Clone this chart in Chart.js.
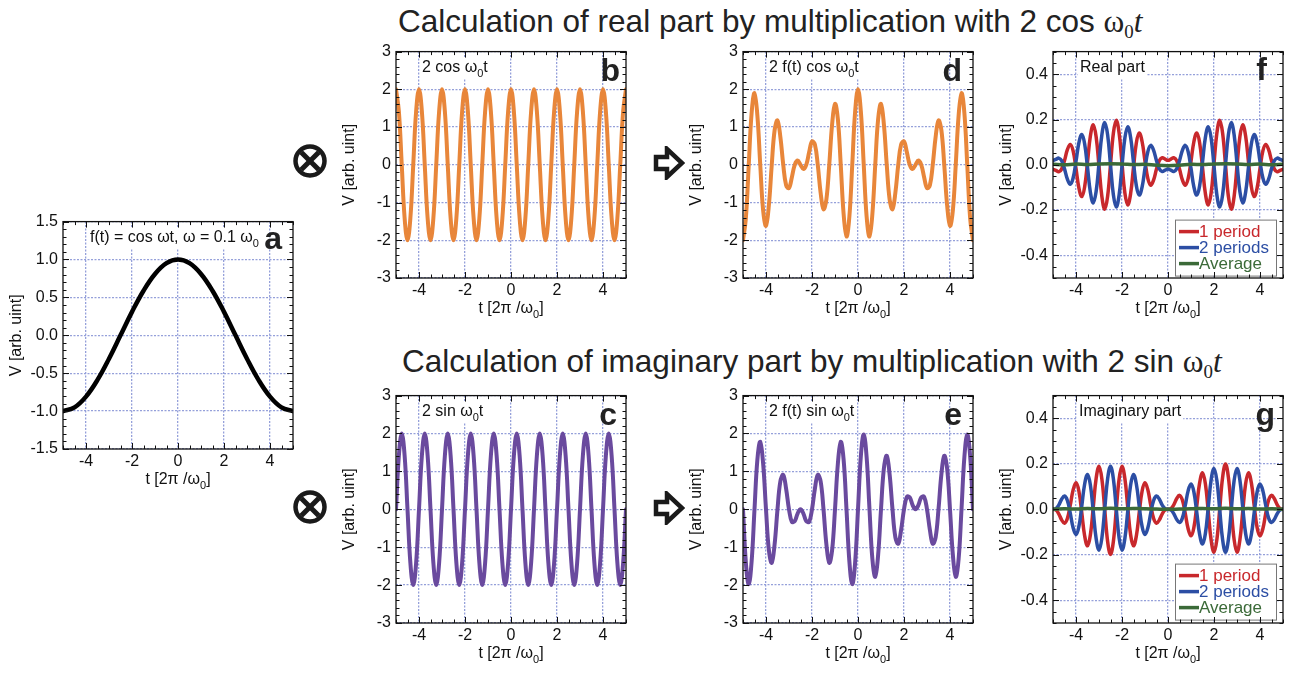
<!DOCTYPE html>
<html>
<head>
<meta charset="utf-8">
<script src="https://cdn.jsdelivr.net/npm/chart.js@4.4.0/dist/chart.umd.min.js"></script>
<style>
  body { margin: 0; background: #fff; }
  #wrap { position: relative; width: 1289px; height: 673px; overflow: hidden; background: #fff;
          font-family: "Liberation Sans", Arial, Helvetica, sans-serif; }
  canvas { position: absolute; }
  .heading { position: absolute; font-size: 31.5px; line-height: 30px; color: #222; white-space: nowrap; }
  .heading .om { font-family: "Liberation Serif", "Times New Roman", serif; }
  .heading .sub { position: relative; top: 0.3em; font-size: 0.6em; }
  .sym { position: absolute; z-index: 5; }
</style>
</head>
<body>
<div id="wrap">
  <div class="heading" style="left:398px; top:6px">Calculation of real part by multiplication with 2 cos <span class="om">ω<span class="sub">0</span><i>t</i></span></div>
  <div class="heading" style="left:402px; top:346px">Calculation of imaginary part by multiplication with 2 sin <span class="om">ω<span class="sub">0</span><i>t</i></span></div>

  <svg class="sym" style="left:293px; top:144px" width="34" height="34" viewBox="0 0 34 34">
    <circle cx="17" cy="17" r="14.5" fill="#fff" stroke="#1a1a1a" stroke-width="4.5"/>
    <line x1="8.2" y1="8.2" x2="25.8" y2="25.8" stroke="#1a1a1a" stroke-width="5"/>
    <line x1="25.8" y1="8.2" x2="8.2" y2="25.8" stroke="#1a1a1a" stroke-width="5"/>
  </svg>
  <svg class="sym" style="left:293px; top:490px" width="34" height="34" viewBox="0 0 34 34">
    <circle cx="17" cy="17" r="14.5" fill="#fff" stroke="#1a1a1a" stroke-width="4.5"/>
    <line x1="8.2" y1="8.2" x2="25.8" y2="25.8" stroke="#1a1a1a" stroke-width="5"/>
    <line x1="25.8" y1="8.2" x2="8.2" y2="25.8" stroke="#1a1a1a" stroke-width="5"/>
  </svg>
  <svg class="sym" style="left:653px; top:146px" width="32" height="34" viewBox="0 0 32 34">
    <polygon points="3,11 14,11 14,3 29,17 14,31 14,23 3,23" fill="#fff" stroke="#1a1a1a" stroke-width="4.5" stroke-linejoin="miter"/>
  </svg>
  <svg class="sym" style="left:653px; top:491px" width="32" height="34" viewBox="0 0 32 34">
    <polygon points="3,11 14,11 14,3 29,17 14,31 14,23 3,23" fill="#fff" stroke="#1a1a1a" stroke-width="4.5" stroke-linejoin="miter"/>
  </svg>

  <canvas id="cv_a"></canvas>
  <canvas id="cv_b"></canvas>
  <canvas id="cv_c"></canvas>
  <canvas id="cv_d"></canvas>
  <canvas id="cv_e"></canvas>
  <canvas id="cv_f"></canvas>
  <canvas id="cv_g"></canvas>
</div>

<script>
// ---- data ----
const xTicks = [-4, -2, 0, 2, 4];
const yTicksA = [-1.5, -1, -0.5, 0, 0.5, 1, 1.5];
const yTicksV = [-3, -2, -1, 0, 1, 2, 3];
const yTicksAvg = [-0.4, -0.2, 0, 0.2, 0.4];

// coarse time axis (panel a, averages)
const tCoarse = [-5, -4.5, -4, -3.5, -3, -2.5, -2, -1.5, -1, -0.5, 0,
                 0.5, 1, 1.5, 2, 2.5, 3, 3.5, 4, 4.5, 5];

// fine time axis (oscillating panels)
const tFine = [
  -5, -4.875, -4.75, -4.625, -4.5, -4.375, -4.25, -4.125,
  -4, -3.875, -3.75, -3.625, -3.5, -3.375, -3.25, -3.125,
  -3, -2.875, -2.75, -2.625, -2.5, -2.375, -2.25, -2.125,
  -2, -1.875, -1.75, -1.625, -1.5, -1.375, -1.25, -1.125,
  -1, -0.875, -0.75, -0.625, -0.5, -0.375, -0.25, -0.125,
  0, 0.125, 0.25, 0.375, 0.5, 0.625, 0.75, 0.875,
  1, 1.125, 1.25, 1.375, 1.5, 1.625, 1.75, 1.875,
  2, 2.125, 2.25, 2.375, 2.5, 2.625, 2.75, 2.875,
  3, 3.125, 3.25, 3.375, 3.5, 3.625, 3.75, 3.875,
  4, 4.125, 4.25, 4.375, 4.5, 4.625, 4.75, 4.875,
  5
];

// a: f(t)
const signalF = [-1, -0.951, -0.809, -0.588, -0.309, 0, 0.309, 0.588, 0.809, 0.951, 1,
                 0.951, 0.809, 0.588, 0.309, 0, -0.309, -0.588, -0.809, -0.951, -1];

// b: 2 cos w0 t
const refCos = [
  2, 1.414, 0, -1.414, -2, -1.414, 0, 1.414,
  2, 1.414, 0, -1.414, -2, -1.414, 0, 1.414,
  2, 1.414, 0, -1.414, -2, -1.414, 0, 1.414,
  2, 1.414, 0, -1.414, -2, -1.414, 0, 1.414,
  2, 1.414, 0, -1.414, -2, -1.414, 0, 1.414,
  2, 1.414, 0, -1.414, -2, -1.414, 0, 1.414,
  2, 1.414, 0, -1.414, -2, -1.414, 0, 1.414,
  2, 1.414, 0, -1.414, -2, -1.414, 0, 1.414,
  2, 1.414, 0, -1.414, -2, -1.414, 0, 1.414,
  2, 1.414, 0, -1.414, -2, -1.414, 0, 1.414,
  2
];

// c: 2 sin w0 t
const refSin = [
  0, 1.414, 2, 1.414, 0, -1.414, -2, -1.414,
  0, 1.414, 2, 1.414, 0, -1.414, -2, -1.414,
  0, 1.414, 2, 1.414, 0, -1.414, -2, -1.414,
  0, 1.414, 2, 1.414, 0, -1.414, -2, -1.414,
  0, 1.414, 2, 1.414, 0, -1.414, -2, -1.414,
  0, 1.414, 2, 1.414, 0, -1.414, -2, -1.414,
  0, 1.414, 2, 1.414, 0, -1.414, -2, -1.414,
  0, 1.414, 2, 1.414, 0, -1.414, -2, -1.414,
  0, 1.414, 2, 1.414, 0, -1.414, -2, -1.414,
  0, 1.414, 2, 1.414, 0, -1.414, -2, -1.414,
  0
];

// d: 2 f(t) cos w0 t
const mixCos = [
  -2, -1.410, 0, 1.375, 1.902, 1.307, 0, -1.206,
  -1.618, -1.075, 0, 0.919, 1.176, 0.739, 0, -0.541,
  -0.618, -0.330, 0, 0.111, 0, -0.111, 0, 0.330,
  0.618, 0.541, 0, -0.739, -1.176, -0.919, 0, 1.075,
  1.618, 1.206, 0, -1.307, -1.902, -1.375, 0, 1.410,
  2, 1.410, 0, -1.375, -1.902, -1.307, 0, 1.206,
  1.618, 1.075, 0, -0.919, -1.176, -0.739, 0, 0.541,
  0.618, 0.330, 0, -0.111, 0, 0.111, 0, -0.330,
  -0.618, -0.541, 0, 0.739, 1.176, 0.919, 0, -1.075,
  -1.618, -1.206, 0, 1.307, 1.902, 1.375, 0, -1.410,
  -2
];

// e: 2 f(t) sin w0 t
const mixSin = [
  0, -1.410, -1.975, -1.375, 0, 1.307, 1.782, 1.206,
  0, -1.075, -1.414, -0.919, 0, 0.739, 0.908, 0.541,
  0, -0.330, -0.313, -0.111, 0, -0.111, -0.313, -0.330,
  0, 0.541, 0.908, 0.739, 0, -0.919, -1.414, -1.075,
  0, 1.206, 1.782, 1.307, 0, -1.375, -1.975, -1.410,
  0, 1.410, 1.975, 1.375, 0, -1.307, -1.782, -1.206,
  0, 1.075, 1.414, 0.919, 0, -0.739, -0.908, -0.541,
  0, 0.330, 0.313, 0.111, 0, 0.111, 0.313, 0.330,
  0, -0.541, -0.908, -0.739, 0, 0.919, 1.414, 1.075,
  0, -1.206, -1.782, -1.307, 0, 1.375, 1.975, 1.410,
  0
];

// f: real part, running averages
const realOne = [
  -0.0199, -0.0250, -0.0311, -0.0191, 0.0189, 0.0668, 0.0902, 0.0614,
  -0.0161, -0.1019, -0.1405, -0.0977, 0.0117, 0.1271, 0.1771, 0.1244,
  -0.0061, -0.1399, -0.1963, -0.1390, 0, 0.1390, 0.1963, 0.1399,
  0.0061, -0.1244, -0.1771, -0.1271, -0.0117, 0.0977, 0.1405, 0.1019,
  0.0161, -0.0614, -0.0902, -0.0668, -0.0189, 0.0191, 0.0311, 0.0250,
  0.0199, 0.0250, 0.0311, 0.0191, -0.0189, -0.0668, -0.0902, -0.0614,
  0.0161, 0.1019, 0.1405, 0.0977, -0.0117, -0.1271, -0.1771, -0.1244,
  0.0061, 0.1399, 0.1963, 0.1390, 0, -0.1390, -0.1963, -0.1399,
  -0.0061, 0.1244, 0.1771, 0.1271, 0.0117, -0.0977, -0.1405, -0.1019,
  -0.0161, 0.0614, 0.0902, 0.0668, 0.0189, -0.0191, -0.0311, -0.0250,
  -0.0199
];
const realTwo = [
  0.0189, 0.0238, 0.0296, 0.0182, -0.0180, -0.0635, -0.0858, -0.0584,
  0.0153, 0.0970, 0.1336, 0.0929, -0.0111, -0.1209, -0.1684, -0.1184,
  0.0058, 0.1331, 0.1867, 0.1322, 0, -0.1322, -0.1867, -0.1331,
  -0.0058, 0.1184, 0.1684, 0.1209, 0.0111, -0.0929, -0.1336, -0.0970,
  -0.0153, 0.0584, 0.0858, 0.0635, 0.0180, -0.0182, -0.0296, -0.0238,
  -0.0189, -0.0238, -0.0296, -0.0182, 0.0180, 0.0635, 0.0858, 0.0584,
  -0.0153, -0.0970, -0.1336, -0.0929, 0.0111, 0.1209, 0.1684, 0.1184,
  -0.0058, -0.1331, -0.1867, -0.1322, 0, 0.1322, 0.1867, 0.1331,
  0.0058, -0.1184, -0.1684, -0.1209, -0.0111, 0.0929, 0.1336, 0.0970,
  0.0153, -0.0584, -0.0858, -0.0635, -0.0180, 0.0182, 0.0296, 0.0238,
  0.0189
];
const realAvg = [0.002, 0, 0.003, 0.001, 0.004, 0.005, 0.004, 0.001, 0.002, -0.002, -0.004,
                 -0.002, 0.002, 0.001, 0.004, 0.005, 0.004, 0.001, 0.003, 0, 0.002];

// g: imaginary part, running averages
const imagOne = [
  0, -0.0030, -0.0196, -0.0465, -0.0614, -0.0408, 0.0177, 0.0854,
  0.1168, 0.0806, -0.0141, -0.1160, -0.1608, -0.1125, 0.0090, 0.1352,
  0.1890, 0.1333, -0.0031, -0.1412, -0.1987, -0.1412, -0.0031, 0.1333,
  0.1890, 0.1352, 0.0090, -0.1125, -0.1608, -0.1160, -0.0141, 0.0806,
  0.1168, 0.0854, 0.0177, -0.0408, -0.0614, -0.0465, -0.0196, -0.0030,
  0, 0.0030, 0.0196, 0.0465, 0.0614, 0.0408, -0.0177, -0.0854,
  -0.1168, -0.0806, 0.0141, 0.1160, 0.1608, 0.1125, -0.0090, -0.1352,
  -0.1890, -0.1333, 0.0031, 0.1412, 0.1987, 0.1412, 0.0031, -0.1333,
  -0.1890, -0.1352, -0.0090, 0.1125, 0.1608, 0.1160, 0.0141, -0.0806,
  -0.1168, -0.0854, -0.0177, 0.0408, 0.0614, 0.0465, 0.0196, 0.0030,
  0
];
const imagTwo = [
  0, 0.0028, 0.0187, 0.0442, 0.0584, 0.0388, -0.0168, -0.0812,
  -0.1111, -0.0766, 0.0134, 0.1103, 0.1529, 0.1070, -0.0086, -0.1286,
  -0.1797, -0.1268, 0.0030, 0.1343, 0.1890, 0.1343, 0.0030, -0.1268,
  -0.1797, -0.1286, -0.0086, 0.1070, 0.1529, 0.1103, 0.0134, -0.0766,
  -0.1111, -0.0812, -0.0168, 0.0388, 0.0584, 0.0442, 0.0187, 0.0028,
  0, -0.0028, -0.0187, -0.0442, -0.0584, -0.0388, 0.0168, 0.0812,
  0.1111, 0.0766, -0.0134, -0.1103, -0.1529, -0.1070, 0.0086, 0.1286,
  0.1797, 0.1268, -0.0030, -0.1343, -0.1890, -0.1343, -0.0030, 0.1268,
  0.1797, 0.1286, 0.0086, -0.1070, -0.1529, -0.1103, -0.0134, 0.0766,
  0.1111, 0.0812, 0.0168, -0.0388, -0.0584, -0.0442, -0.0187, -0.0028,
  0
];
const imagAvg = [0, 0.002, 0.001, 0.003, 0.002, 0.005, 0.002, 0.004, 0.002, 0.001, 0,
                 0.001, 0.002, 0.004, 0.002, 0.005, 0.002, 0.003, 0.001, 0.002, 0];

const avgLabels = ['1 period', '2 periods', 'Average'];

// ---- layout / style ----
const FONT = '"Liberation Sans", Arial, Helvetica, sans-serif';
const GRID = '#95a0da';
const Y_AXIS_W = 62, PAD_T = 12, PAD_R = 6, X_AXIS_H = 48;
const LAYOUT = {
  a: { x: 63,   y: 219, w: 230, h: 230 },
  b: { x: 396,  y: 49,  w: 230, h: 229 },
  d: { x: 743,  y: 49,  w: 230, h: 229 },
  f: { x: 1053, y: 49,  w: 230, h: 229 },
  c: { x: 396,  y: 393, w: 230, h: 230 },
  e: { x: 743,  y: 393, w: 230, h: 230 },
  g: { x: 1053, y: 393, w: 230, h: 230 }
};
const ORANGE = '#e8863a', PURPLE = '#6a4a9e', RED = '#c8282c', BLUE = '#2c4ea4', GREEN = '#3b6a38';

Chart.defaults.font.family = FONT;
Chart.defaults.color = '#111';

// rich text: plain strings, ['x'] = subscript
function richWidth(ctx, parts, size) {
  let w = 0;
  parts.forEach(p => {
    const sub = Array.isArray(p);
    ctx.font = (sub ? Math.round(size * 0.68) : size) + 'px ' + FONT;
    w += ctx.measureText(sub ? p[0] : p).width;
  });
  return w;
}
function drawRich(ctx, parts, x, y, size) {
  let cx = x;
  ctx.textAlign = 'left';
  ctx.textBaseline = 'middle';
  parts.forEach(p => {
    const sub = Array.isArray(p);
    const s = sub ? p[0] : p;
    ctx.font = (sub ? Math.round(size * 0.68) : size) + 'px ' + FONT;
    ctx.fillText(s, cx, sub ? y + size * 0.38 : y);
    cx += ctx.measureText(s).width;
  });
}
function steps(lo, hi, st) {
  const out = [];
  for (let v = lo; v <= hi + 1e-9; v += st) out.push(Math.round(v * 1000) / 1000);
  return out;
}

const xTitle = ['t [2π /ω', ['0'], ']'];

const PANELS = [
  { id: 'a', yMin: -1.5, yMax: 1.5, yTicks: yTicksA, yMinor: 0.1, fmt: v => v.toFixed(1),
    label: ['f(t) = cos ωt, ω = 0.1 ω', ['0']], labelDx: 27, letter: 'a', letterDx: 11, letterDy: 27,
    series: [{ t: tCoarse, v: signalF, color: '#000', width: 4.5 }] },
  { id: 'b', yMin: -3, yMax: 3, yTicks: yTicksV, yMinor: 0.2, fmt: v => String(v),
    label: ['2 cos ω', ['0'], 't'], labelDx: 26, letter: 'b', letterDx: 6, letterDy: 29,
    series: [{ t: tFine, v: refCos, color: ORANGE, width: 4 }] },
  { id: 'c', yMin: -3, yMax: 3, yTicks: yTicksV, yMinor: 0.2, fmt: v => String(v),
    label: ['2 sin ω', ['0'], 't'], labelDx: 26, letter: 'c', letterDx: 9, letterDy: 29,
    series: [{ t: tFine, v: refSin, color: PURPLE, width: 4 }] },
  { id: 'd', yMin: -3, yMax: 3, yTicks: yTicksV, yMinor: 0.2, fmt: v => String(v),
    label: ['2 f(t) cos ω', ['0'], 't'], labelDx: 26, letter: 'd', letterDx: 11, letterDy: 29,
    series: [{ t: tFine, v: mixCos, color: ORANGE, width: 4 }] },
  { id: 'e', yMin: -3, yMax: 3, yTicks: yTicksV, yMinor: 0.2, fmt: v => String(v),
    label: ['2 f(t) sin ω', ['0'], 't'], labelDx: 26, letter: 'e', letterDx: 11, letterDy: 29,
    series: [{ t: tFine, v: mixSin, color: PURPLE, width: 4 }] },
  { id: 'f', yMin: -0.5, yMax: 0.5, yTicks: yTicksAvg, yMinor: 0.05, fmt: v => v.toFixed(1),
    label: ['Real part'], labelDx: 27, letter: 'f', letterDx: 16, letterDy: 28, legend: true,
    series: [
      { t: tFine, v: realOne, color: RED, width: 3.5, label: avgLabels[0], order: 2 },
      { t: tFine, v: realTwo, color: BLUE, width: 3.5, label: avgLabels[1], order: 1 },
      { t: tCoarse, v: realAvg, color: GREEN, width: 3.5, label: avgLabels[2], order: 0 }
    ] },
  { id: 'g', yMin: -0.5, yMax: 0.5, yTicks: yTicksAvg, yMinor: 0.05, fmt: v => v.toFixed(1),
    label: ['Imaginary part'], labelDx: 26, letter: 'g', letterDx: 8, letterDy: 29, legend: true,
    series: [
      { t: tFine, v: imagOne, color: RED, width: 3.5, label: avgLabels[0], order: 2 },
      { t: tFine, v: imagTwo, color: BLUE, width: 3.5, label: avgLabels[1], order: 1 },
      { t: tCoarse, v: imagAvg, color: GREEN, width: 3.5, label: avgLabels[2], order: 0 }
    ] }
];

function framePlugin(spec) {
  return {
    id: 'frame_' + spec.id,
    afterDatasetsDraw(chart) {
      const { ctx, chartArea: a } = chart;
      const xs = chart.scales.x, ys = chart.scales.y;
      ctx.save();

      // panel label on white backing
      const lx = a.left + spec.labelDx, ly = a.top + 16;
      const lw = richWidth(ctx, spec.label, 16);
      ctx.fillStyle = '#fff';
      ctx.fillRect(lx - 2, ly - 10, lw + 4, 21);
      ctx.fillStyle = '#111';
      drawRich(ctx, spec.label, lx, ly, 16);

      // panel letter
      ctx.font = 'bold 32px ' + FONT;
      ctx.fillStyle = '#222';
      ctx.textAlign = 'right';
      ctx.textBaseline = 'alphabetic';
      ctx.fillText(spec.letter, a.right - spec.letterDx, a.top + spec.letterDy);

      // legend box
      if (spec.legend) {
        const bx = a.right - 108, by = a.top + 168, bw = 101, bh = 56;
        ctx.fillStyle = '#fff';
        ctx.fillRect(bx, by, bw, bh);
        ctx.strokeStyle = '#777';
        ctx.lineWidth = 1;
        ctx.strokeRect(bx + 0.5, by + 0.5, bw, bh);
        spec.series.forEach((s, i) => {
          const ry = by + 12 + i * 16;
          ctx.strokeStyle = s.color;
          ctx.lineWidth = 3.5;
          ctx.beginPath();
          ctx.moveTo(bx + 4, ry);
          ctx.lineTo(bx + 24, ry);
          ctx.stroke();
          ctx.fillStyle = s.color;
          ctx.font = '17px ' + FONT;
          ctx.textAlign = 'left';
          ctx.textBaseline = 'middle';
          ctx.fillText(s.label, bx + 24, ry + 1);
        });
      }

      // frame and inward ticks
      ctx.strokeStyle = '#111';
      ctx.lineWidth = 1.3;
      ctx.strokeRect(a.left, a.top, a.right - a.left, a.bottom - a.top);
      ctx.lineWidth = 1;
      ctx.beginPath();
      steps(-5, 5, 0.5).forEach(v => {
        const px = Math.round(xs.getPixelForValue(v)) + 0.5;
        const len = xTicks.includes(v) ? 6 : 3.5;
        ctx.moveTo(px, a.bottom); ctx.lineTo(px, a.bottom - len);
        ctx.moveTo(px, a.top); ctx.lineTo(px, a.top + len);
      });
      steps(spec.yMin, spec.yMax, spec.yMinor).forEach(v => {
        const py = Math.round(ys.getPixelForValue(v)) + 0.5;
        const len = spec.yTicks.some(t => Math.abs(t - v) < 1e-6) ? 6 : 3.5;
        ctx.moveTo(a.left, py); ctx.lineTo(a.left + len, py);
        ctx.moveTo(a.right, py); ctx.lineTo(a.right - len, py);
      });
      ctx.stroke();

      // x axis title with subscript
      ctx.fillStyle = '#111';
      const tw = richWidth(ctx, xTitle, 16);
      drawRich(ctx, xTitle, (a.left + a.right) / 2 - tw / 2, a.bottom + 31, 16);

      ctx.restore();
    }
  };
}

function buildPanel(spec) {
  const L = LAYOUT[spec.id];
  const cv = document.getElementById('cv_' + spec.id);
  const W = L.w + Y_AXIS_W + PAD_R, H = L.h + PAD_T + X_AXIS_H;
  cv.width = W; cv.height = H;
  cv.style.width = W + 'px'; cv.style.height = H + 'px';
  cv.style.left = (L.x - Y_AXIS_W) + 'px';
  cv.style.top = (L.y - PAD_T) + 'px';

  const gridOpts = { color: GRID, lineWidth: 1.3, drawTicks: false };
  const borderOpts = { display: false, dash: [2, 1.5] };

  new Chart(cv, {
    type: 'line',
    data: {
      datasets: spec.series.map(s => ({
        label: s.label || spec.id,
        data: s.t.map((t, j) => ({ x: t, y: s.v[j] })),
        borderColor: s.color,
        borderWidth: s.width,
        pointRadius: 0,
        tension: 0.4,
        fill: false,
        order: s.order || 0,
        borderCapStyle: 'round',
        borderJoinStyle: 'round'
      }))
    },
    options: {
      responsive: false,
      maintainAspectRatio: false,
      devicePixelRatio: 1,
      animation: false,
      events: [],
      layout: { padding: { top: PAD_T, right: PAD_R, left: 0, bottom: 0 } },
      plugins: { legend: { display: false }, tooltip: { enabled: false } },
      scales: {
        x: {
          type: 'linear', min: -5, max: 5,
          afterBuildTicks: s => { s.ticks = xTicks.map(v => ({ value: v })); },
          afterFit: s => { s.height = X_AXIS_H; },
          ticks: { font: { size: 16 }, color: '#111', padding: 3, maxRotation: 0, autoSkip: false,
                   callback: v => String(v) },
          grid: gridOpts,
          border: borderOpts
        },
        y: {
          type: 'linear', min: spec.yMin, max: spec.yMax,
          afterBuildTicks: s => { s.ticks = spec.yTicks.map(v => ({ value: v })); },
          afterFit: s => { s.width = Y_AXIS_W; },
          ticks: { font: { size: 16 }, color: '#111', padding: 5, autoSkip: false,
                   callback: v => spec.fmt(v) },
          grid: gridOpts,
          border: borderOpts,
          title: { display: true, text: 'V [arb. uint]', color: '#111', font: { size: 16 },
                   padding: { top: 6, bottom: 0 } }
        }
      }
    },
    plugins: [framePlugin(spec)]
  });
}

PANELS.forEach(buildPanel);
</script>
</body>
</html>
